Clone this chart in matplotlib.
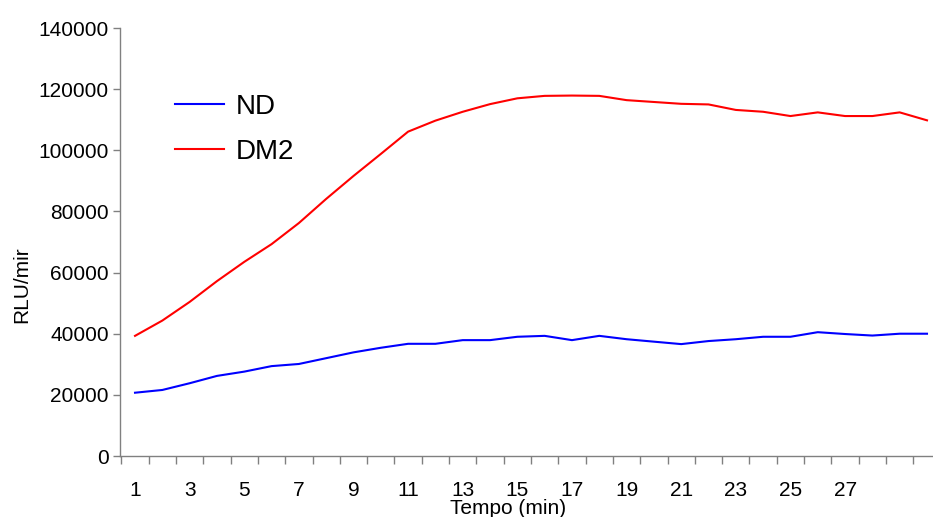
import matplotlib
matplotlib.use("Agg")
import matplotlib.pyplot as plt
import numpy as np

plt.rcParams['font.family'] = ['Liberation Sans', 'DejaVu Sans']

# leitura a cada minuto
tempo = list(range(1, 31))
nd = [20700, 21600, 23800, 26200, 27600, 29400, 30100, 32000, 33900, 35400,
      36700, 36700, 37900, 37900, 39000, 39300, 37900, 39300, 38200, 37400,
      36600, 37600, 38200, 39000, 39000, 40500, 39900, 39400, 40000, 40000]
dm2 = [39300, 44300, 50400, 57200, 63500, 69300, 76200, 84100, 91600, 98800,
       106100, 109700, 112600, 115100, 117000, 117800, 117900, 117800, 116400, 115800,
       115200, 115000, 113200, 112600, 111200, 112400, 111200, 111200, 112400, 109800]
tick_labels = [str(t) for t in range(1, 28, 2)]

fig = plt.figure(figsize=(9.33, 5.17), dpi=100)
ax = fig.add_axes([120/933, 61/517, 813/933, 428/517])

ax.plot(tempo, nd, color='#0000ff', lw=1.5, label='ND')
ax.plot(tempo, dm2, color='#ff0000', lw=1.5, label='DM2')

ax.set_xlim(0.45, 30.22)
ax.set_ylim(0, 140000)
ax.set_yticks(np.arange(0, 140001, 20000))
ax.set_yticklabels([str(v) for v in range(0, 140001, 20000)])

ax.set_xticks(range(1, 28, 2))
ax.set_xticklabels(tick_labels)
ax.set_xticks(np.arange(0.5, 30.5, 1), minor=True)
ax.tick_params(axis='x', which='major', length=0, pad=18, labelsize=15)
ax.tick_params(axis='x', which='minor', length=6, color='#808080', width=1)
ax.tick_params(axis='y', length=5, color='#808080', width=1, labelsize=15, pad=3)

for s in ['top', 'right']:
    ax.spines[s].set_visible(False)
for s in ['left', 'bottom']:
    ax.spines[s].set_color('#808080')
    ax.spines[s].set_linewidth(1)

ax.set_ylabel('RLU/mir', fontsize=15)
ax.yaxis.set_label_coords(-0.109, 0.40)
ax.set_xlabel('Tempo (min)', fontsize=15)
ax.xaxis.set_label_coords(0.477, -0.1)

ax.legend(loc='upper left', bbox_to_anchor=(0.037, 0.905), frameon=False,
          fontsize=20, handlelength=1.75, handletextpad=0.42, labelspacing=0.68)

fig.savefig('out.png', dpi=100)
